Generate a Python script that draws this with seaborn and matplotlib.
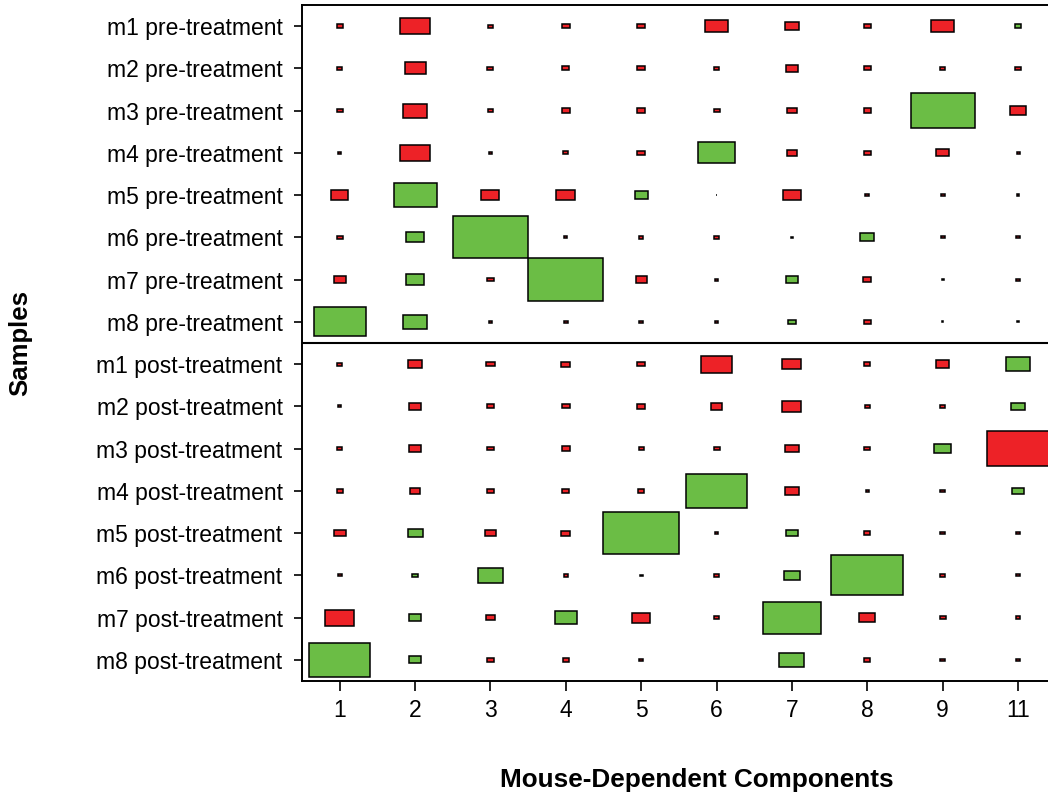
import numpy as np
import pandas as pd
import matplotlib
matplotlib.use("Agg")
import matplotlib.pyplot as plt
import seaborn as sns

# Component labels and sample labels
components = ["1", "2", "3", "4", "5", "6", "7", "8", "9", "11"]
mice = ["m1", "m2", "m3", "m4", "m5", "m6", "m7", "m8"]
samples = [f"{m} pre-treatment" for m in mice] + [f"{m} post-treatment" for m in mice]

# Signed component weights (percent of the largest); positive = green, negative = red
m1_pre = [-8, -40, -7, -10, -11, -30, -19, -10, -30, 9]
m2_pre = [-6, -28, -8, -9, -10, -7, -16, -9, -6, -7]
m3_pre = [-8, -33, -6, -10, -11, -8, -13, -10, 85, -20]
m4_pre = [-4, -39, -4, -7, -10, 50, -13, -10, -17, -4]
m5_pre = [-23, 57, -24, -25, 17, -2, -23, -5, -5, -3]
m6_pre = [-8, 24, 100, -4, -6, -7, -2, 19, -5, -5]
m7_pre = [-16, 25, -9, 100, -15, -5, 16, -11, -3, -5]
m8_pre = [69, 32, -5, -5, -6, -5, 10, -10, -2, -3]

m1_post = [-7, -18, -11, -12, -10, -40, -25, -8, -17, 33]
m2_post = [-4, -15, -9, -10, -11, -15, -25, -6, -7, 18]
m3_post = [-7, -15, -9, -10, -7, -8, -18, -8, 23, -82]
m4_post = [-8, -13, -9, -9, -8, 80, -19, -4, -6, 15]
m5_post = [-16, 20, -14, -12, 100, -4, 15, -8, -6, -6]
m6_post = [-5, 7, 34, -6, -4, -7, 21, 95, -6, -5]
m7_post = [-38, 17, -13, 29, -24, -6, 76, -21, -8, -6]
m8_post = [81, 17, -10, -8, -6, 0, 33, -8, -6, -6]

rows = [m1_pre, m2_pre, m3_pre, m4_pre, m5_pre, m6_pre, m7_pre, m8_pre,
        m1_post, m2_post, m3_post, m4_post, m5_post, m6_post, m7_post, m8_post]

records = []
for i, (name, vals) in enumerate(zip(samples, rows)):
    for j, (comp, v) in enumerate(zip(components, vals)):
        records.append({"sample": name, "component": comp, "row": i, "col": j, "value": v})
df = pd.DataFrame(records)

sns.set_theme(style="white")
plt.rcParams["font.family"] = ["Liberation Sans", "DejaVu Sans"]

GREEN = "#6BBD45"
RED = "#ED2227"

W, H, DPI = 1048, 801, 100
fig = plt.figure(figsize=(W / DPI, H / DPI), dpi=DPI)
left, right, top, bottom = 302, 1055.7, 4.9, 681
ax = fig.add_axes([left / W, (H - bottom) / H, (right - left) / W, (bottom - top) / H])

vmax = df["value"].abs().max()
nz = df[df["value"] != 0]
size = nz["value"].abs() / vmax
colors = np.where(nz["value"] > 0, GREEN, RED)
ax.bar(nz["col"], size, width=size, bottom=nz["row"] - size / 2,
       color=colors, edgecolor="black", linewidth=1.1, zorder=3)

ax.axhline(7.5, color="black", linewidth=1.5, zorder=2)

ax.set_xlim(-0.5, len(components) - 0.5)
ax.set_ylim(len(samples) - 0.5, -0.5)
ax.set_xticks(range(len(components)))
ax.set_xticklabels(components)
ax.set_yticks(range(len(samples)))
ax.set_yticklabels(samples)

for s in ax.spines.values():
    s.set_color("black")
    s.set_linewidth(1.4)

ax.tick_params(axis="y", which="major", left=True, length=6, width=1.2,
               color="black", pad=8, labelsize=16.5, labelcolor="black")
ax.tick_params(axis="x", which="major", bottom=True, length=7, width=1.2,
               color="black", pad=6, labelsize=16.5, labelcolor="black")

ax.set_xlabel("Mouse-Dependent Components", fontsize=18.8, fontweight="bold",
              color="black", va="center")
ax.xaxis.set_label_coords(0.5234, -0.1464)
ax.set_ylabel("Samples", fontsize=18.5, fontweight="bold", color="black", va="center")
ax.yaxis.set_label_coords(-0.374, 0.5)

fig.savefig("out.png", dpi=DPI)
